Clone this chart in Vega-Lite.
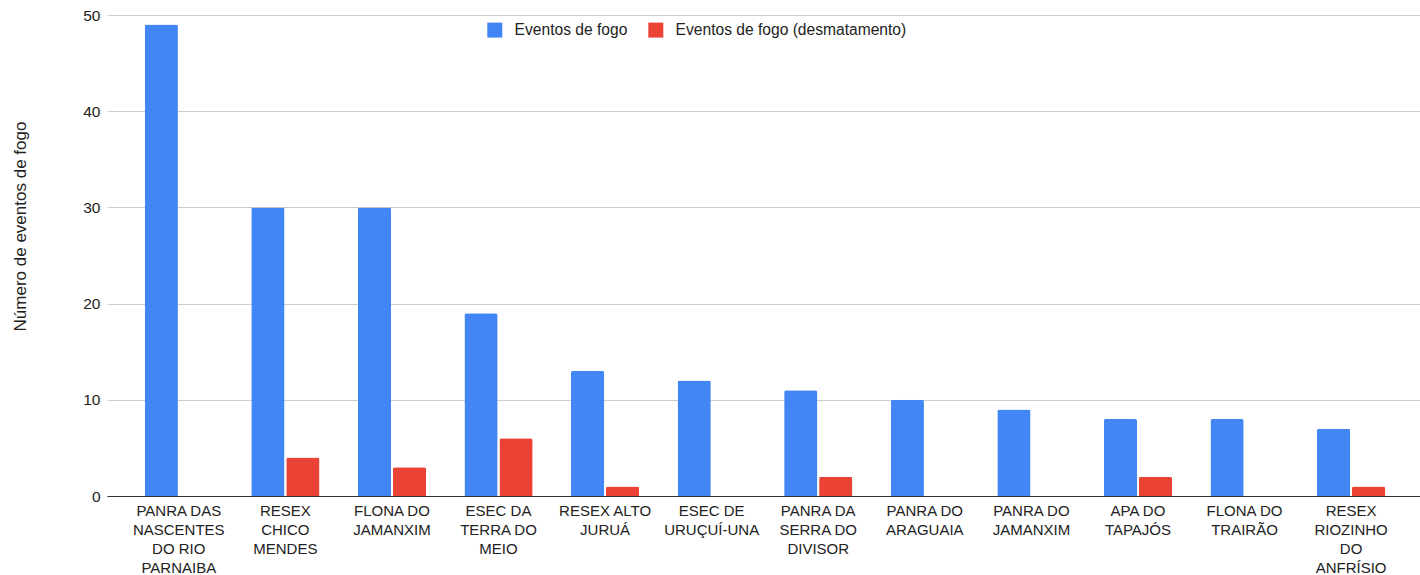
{
  "$schema": "https://vega.github.io/schema/vega-lite/v6.json",
  "width": 1313,
  "height": 481,
  "autosize": "none",
  "padding": {"left": 107, "top": 15, "right": 0, "bottom": 79},
  "background": "white",
  "config": {
    "font": "Liberation Sans",
    "view": {"stroke": null}
  },
  "data": {
    "values": [
      {"unidade": "PANRA DAS|NASCENTES|DO RIO|PARNAIBA", "ordem": 1, "serie": "Eventos de fogo", "valor": 49},
      {"unidade": "PANRA DAS|NASCENTES|DO RIO|PARNAIBA", "ordem": 1, "serie": "Eventos de fogo (desmatamento)", "valor": 0},
      {"unidade": "RESEX|CHICO|MENDES", "ordem": 2, "serie": "Eventos de fogo", "valor": 30},
      {"unidade": "RESEX|CHICO|MENDES", "ordem": 2, "serie": "Eventos de fogo (desmatamento)", "valor": 4},
      {"unidade": "FLONA DO|JAMANXIM", "ordem": 3, "serie": "Eventos de fogo", "valor": 30},
      {"unidade": "FLONA DO|JAMANXIM", "ordem": 3, "serie": "Eventos de fogo (desmatamento)", "valor": 3},
      {"unidade": "ESEC DA|TERRA DO|MEIO", "ordem": 4, "serie": "Eventos de fogo", "valor": 19},
      {"unidade": "ESEC DA|TERRA DO|MEIO", "ordem": 4, "serie": "Eventos de fogo (desmatamento)", "valor": 6},
      {"unidade": "RESEX ALTO|JURUÁ", "ordem": 5, "serie": "Eventos de fogo", "valor": 13},
      {"unidade": "RESEX ALTO|JURUÁ", "ordem": 5, "serie": "Eventos de fogo (desmatamento)", "valor": 1},
      {"unidade": "ESEC DE|URUÇUÍ-UNA", "ordem": 6, "serie": "Eventos de fogo", "valor": 12},
      {"unidade": "ESEC DE|URUÇUÍ-UNA", "ordem": 6, "serie": "Eventos de fogo (desmatamento)", "valor": 0},
      {"unidade": "PANRA DA|SERRA DO|DIVISOR", "ordem": 7, "serie": "Eventos de fogo", "valor": 11},
      {"unidade": "PANRA DA|SERRA DO|DIVISOR", "ordem": 7, "serie": "Eventos de fogo (desmatamento)", "valor": 2},
      {"unidade": "PANRA DO|ARAGUAIA", "ordem": 8, "serie": "Eventos de fogo", "valor": 10},
      {"unidade": "PANRA DO|ARAGUAIA", "ordem": 8, "serie": "Eventos de fogo (desmatamento)", "valor": 0},
      {"unidade": "PANRA DO|JAMANXIM", "ordem": 9, "serie": "Eventos de fogo", "valor": 9},
      {"unidade": "PANRA DO|JAMANXIM", "ordem": 9, "serie": "Eventos de fogo (desmatamento)", "valor": 0},
      {"unidade": "APA DO|TAPAJÓS", "ordem": 10, "serie": "Eventos de fogo", "valor": 8},
      {"unidade": "APA DO|TAPAJÓS", "ordem": 10, "serie": "Eventos de fogo (desmatamento)", "valor": 2},
      {"unidade": "FLONA DO|TRAIRÃO", "ordem": 11, "serie": "Eventos de fogo", "valor": 8},
      {"unidade": "FLONA DO|TRAIRÃO", "ordem": 11, "serie": "Eventos de fogo (desmatamento)", "valor": 0},
      {"unidade": "RESEX|RIOZINHO|DO|ANFRÍSIO", "ordem": 12, "serie": "Eventos de fogo", "valor": 7},
      {"unidade": "RESEX|RIOZINHO|DO|ANFRÍSIO", "ordem": 12, "serie": "Eventos de fogo (desmatamento)", "valor": 1}
    ]
  },
  "mark": {"type": "bar", "cornerRadiusTopLeft": 2, "cornerRadiusTopRight": 2},
  "encoding": {
    "x": {
      "field": "unidade",
      "type": "nominal",
      "sort": {"field": "ordem", "op": "min"},
      "scale": {"paddingInner": 0.36, "paddingOuter": 0.34, "align": 0.52},
      "axis": {
        "title": null,
        "labelAngle": 0,
        "labelExpr": "split(datum.label, '|')",
        "labelFontSize": 15,
        "labelLineHeight": 19,
        "labelColor": "#222222",
        "labelPadding": 7,
        "labelBaseline": "top",
        "ticks": false,
        "domainColor": "#333333",
        "domainWidth": 1,
        "labelLimit": 200
      }
    },
    "xOffset": {
      "field": "serie",
      "type": "nominal",
      "scale": {"paddingInner": 0.05}
    },
    "y": {
      "field": "valor",
      "type": "quantitative",
      "scale": {"domain": [0, 50], "nice": false},
      "axis": {
        "title": "Número de eventos de fogo",
        "titleFontSize": 17,
        "titleFontWeight": "normal",
        "titleColor": "#222222",
        "titleAngle": -90,
        "titleX": -87,
        "titleY": 211,
        "titleAlign": "center",
        "titleBaseline": "middle",
        "values": [0, 10, 20, 30, 40, 50],
        "labelFontSize": 15.5,
        "labelColor": "#222222",
        "labelPadding": 7,
        "ticks": false,
        "domain": false,
        "gridColor": "#cccccc",
        "gridWidth": 1
      }
    },
    "color": {
      "field": "serie",
      "type": "nominal",
      "scale": {
        "domain": ["Eventos de fogo", "Eventos de fogo (desmatamento)"],
        "range": ["#4285F4", "#EA4335"]
      },
      "legend": {
        "title": null,
        "orient": "none",
        "direction": "horizontal",
        "legendX": 380,
        "legendY": 7,
        "symbolType": "square",
        "symbolSize": 225,
        "symbolStrokeWidth": 0,
        "labelFontSize": 15.6,
        "labelColor": "#222222",
        "labelOffset": 12,
        "columnPadding": 20,
        "labelLimit": 400
      }
    }
  }
}
